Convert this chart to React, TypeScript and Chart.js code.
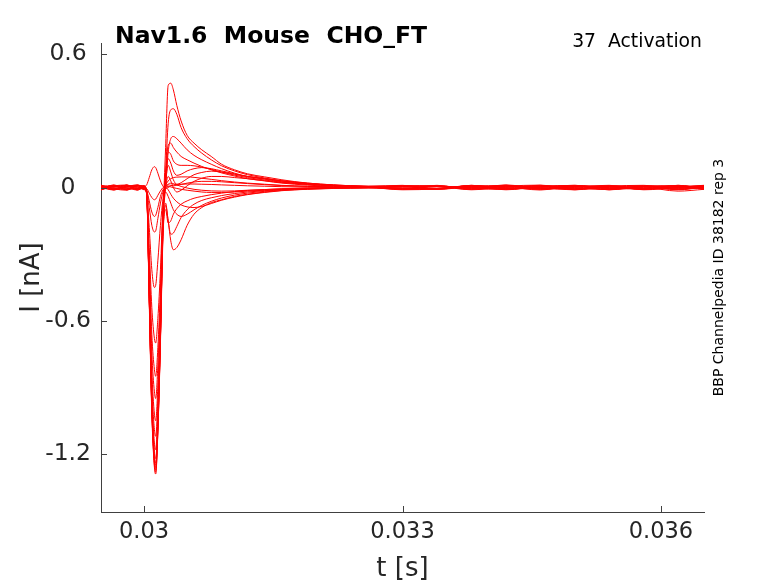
import { useEffect, useRef } from "react";
import { Chart, registerables } from "chart.js";

Chart.register(...registerables);

// time axis (s)
const timeS = [
  0.0295, 0.02965, 0.0298, 0.02992, 0.03, 0.03003, 0.03006, 0.03009, 0.03012, 0.030135,
  0.03016, 0.03019, 0.03022, 0.03025, 0.03028, 0.03031, 0.03034, 0.03038, 0.03043, 0.0305,
  0.03058, 0.03067, 0.03078, 0.0309, 0.03105, 0.0312, 0.0314, 0.0316, 0.0319, 0.0322,
  0.0326, 0.033, 0.0334, 0.0338, 0.0342, 0.0346, 0.035, 0.0354, 0.0358, 0.0362, 0.0365,
];

const xTickValues = [0.03, 0.033, 0.036];
const xTickLabels = ["0.03", "0.033", "0.036"];
const yTickValues = [0.6, 0, -0.6, -1.2];
const yTickLabels = ["0.6", "0", "-0.6", "-1.2"];

// currents (nA), one array per sweep
const sweepP1 = [0.008, -0.01, 0.012, -0.006, 0.004, -0.03, -0.52, -1.02, -1.26, -1.29, -1.1, -0.68, -0.15, 0.18, 0.46, 0.47, 0.44, 0.37, 0.3, 0.235, 0.2, 0.17, 0.14, 0.105, 0.08, 0.062, 0.048, 0.035, 0.02, 0.012, 0.006, 0.006, -0.008, 0.01, -0.004, 0.008, -0.01, 0.006, 0.002, -0.008, 0.004];
const sweepP2 = [-0.01, 0.012, -0.008, 0.01, -0.004, -0.025, -0.5, -1.0, -1.24, -1.27, -1.09, -0.67, -0.17, 0.07, 0.29, 0.35, 0.355, 0.33, 0.27, 0.22, 0.185, 0.155, 0.125, 0.098, 0.075, 0.058, 0.043, 0.03, 0.018, 0.01, 0.005, -0.006, 0.008, -0.006, 0.012, -0.004, 0.006, -0.01, 0.008, 0.004, -0.006];
const sweepP3 = [0.004, -0.006, -0.012, 0.011, 0.006, -0.02, -0.49, -0.98, -1.22, -1.25, -1.07, -0.65, -0.16, 0.0, 0.16, 0.22, 0.23, 0.22, 0.2, 0.17, 0.145, 0.125, 0.105, 0.085, 0.065, 0.05, 0.038, 0.026, 0.015, 0.008, 0.004, 0.008, -0.006, 0.008, 0.004, -0.011, 0.008, 0.0, -0.006, 0.01, -0.004];
const sweepP4 = [-0.008, 0.006, 0.01, -0.011, -0.002, -0.025, -0.48, -0.96, -1.19, -1.22, -1.04, -0.63, -0.14, 0.06, 0.19, 0.2, 0.18, 0.16, 0.14, 0.125, 0.11, 0.095, 0.08, 0.066, 0.052, 0.04, 0.03, 0.02, 0.011, 0.005, 0.002, -0.004, 0.01, -0.008, 0.006, 0.011, -0.006, 0.008, -0.004, 0.002, 0.008];
const sweepP5 = [0.011, -0.004, 0.006, -0.008, 0.009, -0.02, -0.46, -0.92, -1.15, -1.18, -1.0, -0.61, -0.13, 0.05, 0.16, 0.15, 0.12, 0.105, 0.1, 0.1, 0.098, 0.092, 0.082, 0.07, 0.056, 0.045, 0.034, 0.024, 0.014, 0.007, 0.003, 0.004, -0.004, 0.006, -0.01, 0.004, 0.01, -0.004, 0.006, -0.008, 0.002];
const sweepP6 = [-0.004, 0.01, -0.01, 0.004, -0.008, -0.02, -0.44, -0.88, -1.09, -1.12, -0.95, -0.58, -0.12, 0.04, 0.13, 0.11, 0.075, 0.055, 0.06, 0.075, 0.085, 0.09, 0.085, 0.075, 0.062, 0.05, 0.04, 0.03, 0.018, 0.01, 0.004, -0.008, 0.006, 0.0, 0.008, -0.008, 0.004, 0.01, -0.006, 0.006, 0.0];
const sweepP7 = [0.006, -0.01, 0.004, 0.012, 0.0, -0.02, -0.41, -0.82, -1.02, -1.05, -0.89, -0.55, -0.12, 0.02, 0.1, 0.07, 0.035, 0.015, 0.022, 0.04, 0.058, 0.068, 0.074, 0.07, 0.06, 0.05, 0.04, 0.03, 0.02, 0.012, 0.006, 0.01, -0.008, 0.004, 0.01, -0.002, -0.008, 0.006, 0.01, -0.004, 0.006];
const sweepP8 = [-0.011, 0.008, -0.004, -0.006, 0.004, -0.02, -0.37, -0.74, -0.92, -0.95, -0.8, -0.5, -0.11, 0.0, 0.05, 0.03, 0.0, -0.02, -0.012, 0.008, 0.028, 0.042, 0.05, 0.05, 0.045, 0.04, 0.031, 0.022, 0.015, 0.009, 0.004, -0.006, 0.004, -0.01, 0.002, 0.006, -0.004, -0.008, 0.004, 0.008, -0.002];
const sweepN1 = [0.01, 0.0, -0.008, 0.008, -0.006, -0.03, -0.5, -1.0, -1.25, -1.28, -1.1, -0.7, -0.22, -0.08, -0.15, -0.24, -0.28, -0.27, -0.235, -0.17, -0.12, -0.09, -0.068, -0.055, -0.04, -0.03, -0.02, -0.013, -0.008, -0.004, -0.002, 0.004, 0.006, -0.004, -0.008, 0.004, 0.008, -0.006, 0.0, -0.016, -0.008];
const sweepN2 = [-0.006, 0.008, 0.011, -0.01, 0.002, -0.025, -0.5, -0.99, -1.23, -1.26, -1.08, -0.68, -0.2, -0.07, -0.15, -0.21, -0.205, -0.175, -0.135, -0.1, -0.075, -0.058, -0.046, -0.036, -0.027, -0.02, -0.014, -0.009, -0.005, -0.002, 0.0, -0.01, -0.006, 0.008, 0.0, -0.008, 0.006, 0.004, -0.008, 0.002, 0.008];
const sweepN3 = [0.002, -0.011, 0.006, 0.004, -0.01, -0.025, -0.49, -0.97, -1.21, -1.24, -1.06, -0.67, -0.19, -0.1, -0.16, -0.15, -0.12, -0.095, -0.075, -0.06, -0.048, -0.04, -0.032, -0.025, -0.018, -0.013, -0.009, -0.005, -0.002, 0.0, 0.001, 0.006, 0.008, -0.004, 0.006, 0.0, -0.01, 0.004, 0.008, -0.006, 0.0];
const sweepN4 = [-0.008, 0.004, -0.002, 0.01, 0.006, -0.015, -0.33, -0.66, -0.82, -0.85, -0.72, -0.45, -0.1, -0.02, -0.04, -0.07, -0.1, -0.12, -0.13, -0.12, -0.1, -0.08, -0.062, -0.047, -0.034, -0.025, -0.017, -0.01, -0.005, -0.002, 0.0, -0.002, -0.004, 0.006, -0.006, 0.008, 0.0, -0.008, 0.006, -0.002, 0.006];
const sweepN5 = [0.008, -0.006, 0.011, -0.004, 0.0, -0.015, -0.27, -0.54, -0.68, -0.7, -0.59, -0.37, -0.08, 0.0, -0.01, -0.03, -0.048, -0.064, -0.078, -0.087, -0.09, -0.085, -0.072, -0.057, -0.043, -0.032, -0.022, -0.014, -0.007, -0.003, -0.001, 0.008, 0.006, 0.0, -0.008, 0.004, 0.008, -0.004, -0.006, 0.004, 0.01];
const sweepS1 = [-0.004, 0.006, 0.0, -0.011, 0.004, 0.012, 0.045, 0.08, 0.094, 0.09, 0.065, 0.03, 0.006, -0.004, 0.0, 0.008, 0.012, 0.014, 0.015, 0.016, 0.016, 0.015, 0.014, 0.012, 0.01, 0.008, 0.006, 0.004, 0.002, 0.001, 0.0, -0.008, -0.006, 0.01, -0.004, -0.002, 0.006, -0.01, 0.004, 0.008, -0.004];
const sweepS2 = [0.006, -0.008, -0.006, 0.008, -0.004, -0.005, -0.025, -0.045, -0.055, -0.052, -0.035, -0.015, 0.0, 0.008, 0.012, 0.01, 0.008, 0.01, 0.014, 0.02, 0.025, 0.028, 0.028, 0.026, 0.022, 0.018, 0.013, 0.009, 0.005, 0.003, 0.001, 0.002, 0.004, 0.0, 0.01, -0.006, -0.002, 0.008, -0.01, 0.0, 0.006];
const sweepS3 = [-0.01, 0.004, 0.008, -0.004, 0.008, -0.01, -0.06, -0.11, -0.13, -0.125, -0.09, -0.04, -0.01, 0.0, 0.005, 0.003, 0.0, -0.004, -0.008, -0.012, -0.016, -0.02, -0.022, -0.022, -0.02, -0.016, -0.012, -0.008, -0.004, -0.002, 0.0, -0.006, -0.008, 0.006, 0.002, 0.01, -0.006, 0.002, -0.004, 0.01, -0.008];
const sweepS4 = [0.004, 0.01, -0.01, 0.0, -0.006, -0.015, -0.09, -0.17, -0.2, -0.195, -0.14, -0.07, -0.02, 0.01, 0.03, 0.04, 0.045, 0.047, 0.048, 0.048, 0.046, 0.042, 0.037, 0.031, 0.025, 0.02, 0.015, 0.01, 0.006, 0.003, 0.001, 0.008, 0.006, -0.008, 0.008, -0.004, 0.002, 0.006, -0.008, 0.004, 0.004];
const sweepS5 = [-0.002, -0.008, 0.006, 0.01, 0.002, -0.02, -0.18, -0.37, -0.45, -0.44, -0.33, -0.17, -0.05, 0.0, 0.015, 0.02, 0.018, 0.012, 0.005, -0.002, -0.008, -0.012, -0.015, -0.016, -0.015, -0.012, -0.009, -0.006, -0.003, -0.001, 0.0, -0.004, -0.004, 0.008, -0.006, 0.002, 0.01, -0.002, 0.004, -0.01, 0.002];

const sweeps = [
  sweepS1, sweepS2, sweepS3, sweepS4, sweepS5,
  sweepN5, sweepN4, sweepN3, sweepN2, sweepN1,
  sweepP8, sweepP7, sweepP6, sweepP5, sweepP4, sweepP3, sweepP2, sweepP1,
];

const X_MIN = 0.0295;
const X_MAX = 0.0365;
const Y_MIN = -1.461;
const Y_MAX = 0.651;

export default function App() {
  const ref = useRef<HTMLCanvasElement>(null);

  useEffect(() => {
    const canvas = ref.current;
    if (!canvas) return;
    const axisColor = "#404040";
    const textColor = "#262626";
    const font = "'DejaVu Sans', sans-serif";

    const overlay = {
      id: "overlay",
      afterDraw(chart: any) {
        const { ctx, chartArea } = chart;
        const xs = chart.scales.x;
        const ys = chart.scales.y;
        ctx.save();
        ctx.strokeStyle = axisColor;
        ctx.lineWidth = 1;
        ctx.beginPath();
        xTickValues.forEach((v) => {
          const px = Math.round(xs.getPixelForValue(v)) + 0.5;
          ctx.moveTo(px, chartArea.bottom);
          ctx.lineTo(px, chartArea.bottom - 6);
        });
        yTickValues.forEach((v) => {
          const py = Math.round(ys.getPixelForValue(v)) + 0.5;
          ctx.moveTo(chartArea.left, py);
          ctx.lineTo(chartArea.left + 6, py);
        });
        ctx.stroke();

        ctx.fillStyle = "#000";
        ctx.textBaseline = "alphabetic";
        ctx.textAlign = "left";
        ctx.font = `bold 23.5px ${font}`;
        ctx.fillText("Nav1.6  Mouse  CHO_FT", chartArea.left + 14, 42.5);

        ctx.textAlign = "right";
        ctx.font = `18.8px ${font}`;
        ctx.fillText("37  Activation", chartArea.right - 2, 47.3);

        ctx.fillStyle = textColor;
        ctx.textAlign = "center";
        ctx.font = `26px ${font}`;
        ctx.fillText("t [s]", (chartArea.left + chartArea.right) / 2, 576);

        const midY = (chartArea.top + chartArea.bottom) / 2;
        ctx.save();
        ctx.translate(39, midY);
        ctx.rotate(-Math.PI / 2);
        ctx.fillText("I [nA]", 0, 0);
        ctx.restore();

        ctx.fillStyle = "#000";
        ctx.font = `14px ${font}`;
        ctx.save();
        ctx.translate(722.5, midY);
        ctx.rotate(-Math.PI / 2);
        ctx.fillText("BBP Channelpedia ID 38182 rep 3", 0, 0);
        ctx.restore();

        ctx.restore();
      },
    };

    const chart = new Chart(canvas, {
      type: "line",
      data: {
        datasets: sweeps.map((sw) => ({
          data: sw.map((v, i) => ({ x: timeS[i], y: v })),
          borderColor: "#ff0000",
          borderWidth: 1,
          pointRadius: 0,
          fill: false,
          cubicInterpolationMode: "monotone" as const,
        })),
      },
      options: {
        animation: false,
        responsive: false,
        events: [],
        layout: { padding: { left: 0, right: 74, top: 43, bottom: 0 } },
        plugins: {
          legend: { display: false },
          tooltip: { enabled: false },
          title: { display: false },
        },
        scales: {
          x: {
            type: "linear",
            min: X_MIN,
            max: X_MAX,
            afterFit: (s: any) => {
              s.height = 71;
            },
            afterBuildTicks: (s: any) => {
              s.ticks = xTickValues.map((v) => ({ value: v }));
            },
            ticks: {
              callback: (_v: any, i: number) => xTickLabels[i],
              font: { family: "DejaVu Sans", size: 22.5 },
              color: textColor,
              padding: 7,
              maxRotation: 0,
              autoSkip: false,
            },
            grid: { display: false, drawTicks: false },
            border: { display: true, color: axisColor, width: 1 },
          },
          y: {
            type: "linear",
            min: Y_MIN,
            max: Y_MAX,
            afterFit: (s: any) => {
              s.width = 101;
            },
            afterBuildTicks: (s: any) => {
              s.ticks = yTickValues.map((v) => ({ value: v }));
            },
            ticks: {
              callback: (_v: any, i: number) => yTickLabels[i],
              font: { family: "DejaVu Sans", size: 23.5 },
              color: textColor,
              padding: 10,
              crossAlign: "center",
              autoSkip: false,
            },
            grid: { display: false, drawTicks: false },
            border: { display: true, color: axisColor, width: 1 },
          },
        },
      },
      plugins: [overlay],
    });

    return () => chart.destroy();
  }, []);

  return (
    <div style={{ position: "absolute", left: 0, top: 0, width: 778, height: 583, background: "#fff" }}>
      <canvas ref={ref} width={778} height={583} style={{ width: 778, height: 583, display: "block" }} />
    </div>
  );
}
